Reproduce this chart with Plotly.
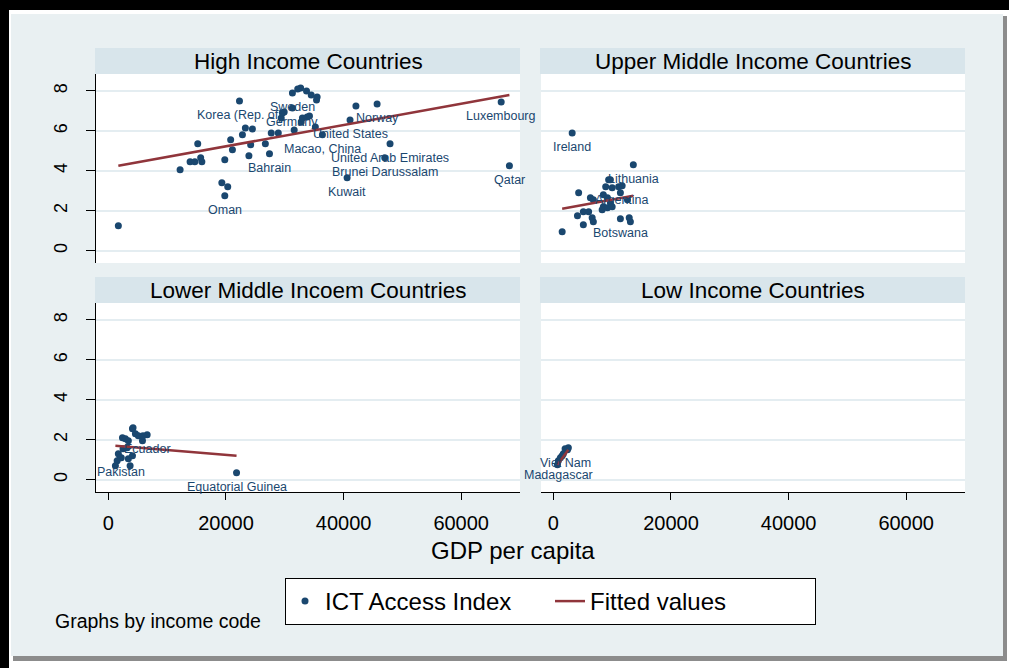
import plotly.graph_objects as go

W, H = 1009, 668

# ---------------- data ----------------
panel_titles = ["High Income Countries", "Upper Middle Income Countries",
                "Lower Middle Incoem Countries", "Low Income Countries"]

high_gdp = [1700, 12200, 13900, 14700, 15900, 15700, 15200, 19800, 19300, 20300,
            19800, 20800, 21100, 22300, 22800, 23300, 24500, 24200, 23900, 26700,
            27400, 27700, 28900, 29400, 29600, 29900, 31300, 32700, 33700, 32200,
            34500, 35400, 35500, 31300, 31600, 32800, 33000, 33800, 34200, 35200,
            36400, 42100, 45700, 41100, 47900, 47000, 40600, 66800, 68200]
high_ict = [1.25, 4.05, 4.45, 4.45, 4.45, 4.65, 5.35, 4.55, 3.4, 3.2,
            2.75, 5.55, 5.05, 7.5, 5.8, 6.15, 6.1, 5.3, 4.75, 5.35,
            4.85, 5.9, 5.9, 6.65, 6.9, 6.95, 7.9, 8.15, 8.0, 8.1,
            7.8, 7.55, 7.7, 7.15, 6.05, 6.45, 6.65, 6.7, 6.75, 6.2,
            5.8, 7.25, 7.35, 6.55, 5.35, 4.65, 3.65, 7.45, 4.25]
high_lbl = ["", "", "", "", "", "", "", "", "", "",
            "Oman", "", "", "Korea (Rep. of)", "", "", "", "", "", "",
            "Bahrain", "", "", "", "", "", "Sweden", "", "", "",
            "", "", "", "Germany", "", "", "", "", "", "",
            "Macao, China", "", "Norway", "United States", "United Arab Emirates",
            "Brunei Darussalam", "Kuwait", "Luxembourg", "Qatar"]
high_fit_x = [1700, 68200]
high_fit_y = [4.25, 7.8]

upper_gdp = [3200, 1500, 13600, 9400, 8900, 10000, 11100, 11700, 4300, 6300,
             6800, 8500, 9200, 11400, 12600, 9700, 8500, 5100, 6000, 4100,
             6600, 5100, 6800, 8300, 9200, 10000, 11400, 12900, 13100, 9700]
upper_ict = [5.9, 0.95, 4.3, 3.55, 3.2, 3.15, 3.2, 3.25, 2.9, 2.65,
             2.55, 2.8, 2.65, 2.9, 2.55, 2.4, 2.2, 1.95, 1.95, 1.75,
             1.65, 1.3, 1.45, 2.05, 2.15, 2.2, 1.6, 1.65, 1.45, 3.55]
upper_lbl = ["Ireland", "", "Lithuania", "", "", "", "", "Argentina", "", "",
             "", "", "", "", "", "", "", "", "", "",
             "", "", "", "", "", "", "Botswana", "", "", ""]
upper_fit_x = [1500, 13600]
upper_fit_y = [2.1, 2.75]

lower_gdp = [21800, 2200, 6600, 4100, 4600, 5100, 2400, 2900, 3400, 5800,
             5900, 2500, 3200, 1700, 2000, 1500, 3400, 4100, 1200, 3700, 4200]
lower_ict = [0.35, 1.1, 2.25, 2.55, 2.3, 2.2, 2.1, 2.05, 1.95, 1.95,
             2.2, 1.55, 1.6, 1.3, 1.1, 0.95, 1.05, 1.2, 0.7, 0.7, 2.6]
lower_lbl = ["Equatorial Guinea", "Pakistan", "Ecuador", "", "", "", "", "", "", "",
             "", "", "", "", "", "", "", "", "", "", ""]
lower_fit_x = [1200, 21800]
lower_fit_y = [1.7, 1.2]

low_gdp = [700, 850, 1200, 1500, 1700, 2000, 2400, 2550]
low_ict = [0.75, 0.95, 1.1, 1.2, 1.3, 1.55, 1.5, 1.6]
low_lbl = ["", "Madagascar", "", "", "", "Viet Nam", "", ""]
low_fit_x = [700, 2550]
low_fit_y = [0.75, 1.5]

x_ticks = [0, 20000, 40000, 60000]
y_ticks = [0, 2, 4, 6, 8]

# ---------------- styling ----------------
NAVY = "#1a476f"
MAROON = "#90353b"
BG = "#e9f0f2"
STRIP = "#d8e5eb"
GRID = "#e4edf1"
FONT = "Liberation Sans, Arial, sans-serif"


def px(x):
    return x / W


def py(y):
    return 1 - y / H


# panel pixel boxes: (left, right, top, bottom)
boxes = [(96, 520, 74, 263), (541, 965, 74, 263),
         (96, 520, 303, 492), (541, 965, 303, 492)]

datasets = [(high_gdp, high_ict, high_lbl, high_fit_x, high_fit_y),
            (upper_gdp, upper_ict, upper_lbl, upper_fit_x, upper_fit_y),
            (lower_gdp, lower_ict, lower_lbl, lower_fit_x, lower_fit_y),
            (low_gdp, low_ict, low_lbl, low_fit_x, low_fit_y)]

fig = go.Figure()
annotations = []

for i, (gx, gy, lbl, fx, fy) in enumerate(datasets):
    ax = "" if i == 0 else str(i + 1)
    first = i == 0
    fig.add_trace(go.Scatter(
        x=gx, y=gy, mode="markers", name="ICT Access Index",
        marker=dict(color=NAVY, size=7, line=dict(width=0)),
        xaxis="x" + ax, yaxis="y" + ax, showlegend=first, legendgroup="pts"))
    fig.add_trace(go.Scatter(
        x=fx, y=fy, mode="lines", name="Fitted values",
        line=dict(color=MAROON, width=2.5),
        xaxis="x" + ax, yaxis="y" + ax, showlegend=first, legendgroup="fit"))
    # point labels (below the marker, as Stata's mlabposition(6))
    for xv, yv, name in zip(gx, gy, lbl):
        if name:
            annotations.append(dict(
                text=name, x=xv, y=yv, xref="x" + ax, yref="y" + ax,
                showarrow=False, xanchor="center", yanchor="middle", yshift=-14,
                font=dict(color=NAVY, size=12.5, family=FONT)))

shapes = [
    # outer frame
    dict(type="rect", xref="paper", yref="paper", x0=0, x1=1, y0=py(10), y1=1,
         fillcolor="#000000", line=dict(width=0), layer="below"),
    dict(type="rect", xref="paper", yref="paper", x0=0, x1=px(9), y0=0, y1=1,
         fillcolor="#000000", line=dict(width=0), layer="below"),
    dict(type="rect", xref="paper", yref="paper", x0=px(13), x1=px(1007),
         y0=py(661), y1=py(16), fillcolor="#8c8c8c", line=dict(width=0), layer="below"),
    dict(type="rect", xref="paper", yref="paper", x0=px(11), x1=px(1003),
         y0=py(656), y1=py(14), fillcolor=BG, line=dict(width=0), layer="below"),
]
layout_axes = {}
for i, (l, r, t, b) in enumerate(boxes):
    ax = "" if i == 0 else str(i + 1)
    is_left = i in (0, 2)
    is_bottom = i in (2, 3)
    # white plot region
    shapes.append(dict(type="rect", xref="paper", yref="paper", x0=px(l), x1=px(r),
                       y0=py(b), y1=py(t), fillcolor="#ffffff",
                       line=dict(width=0), layer="below"))
    # strip
    shapes.append(dict(type="rect", xref="paper", yref="paper", x0=px(l - 1), x1=px(r),
                       y0=py(t), y1=py(t - 26), fillcolor=STRIP,
                       line=dict(width=0), layer="below"))
    annotations.append(dict(text=panel_titles[i], xref="paper", yref="paper",
                            x=px((l + r) / 2), y=py(t - 13), showarrow=False,
                            xanchor="center", yanchor="middle",
                            font=dict(size=22.5, color="#000000", family=FONT)))
    layout_axes["xaxis" + ax] = dict(
        domain=[px(l), px(r)], range=[-2100, 70000], anchor="y" + ax,
        showgrid=False, zeroline=False, tickvals=x_ticks,
        ticktext=[str(v) for v in x_ticks],
        showline=is_bottom, linecolor="#000000", linewidth=1.3,
        ticks="outside" if is_bottom else "", ticklen=7, tickcolor="#000000",
        showticklabels=is_bottom, ticklabelstandoff=6,
        tickfont=dict(size=20, color="#000000", family=FONT))
    layout_axes["yaxis" + ax] = dict(
        domain=[py(b), py(t)], range=[-0.62, 8.85], anchor="x" + ax,
        showgrid=True, gridcolor=GRID, gridwidth=1.5, zeroline=False,
        tickvals=y_ticks, ticktext=[str(v) for v in y_ticks],
        showline=is_left, linecolor="#000000", linewidth=1.3,
        ticks="outside" if is_left else "", ticklen=9, tickcolor="#000000",
        showticklabels=is_left, tickangle=-90, ticklabelstandoff=12,
        tickfont=dict(size=18, color="#000000", family=FONT))

annotations.append(dict(text="GDP per capita", xref="paper", yref="paper",
                        x=px(513), y=py(550), showarrow=False, xanchor="center",
                        yanchor="middle",
                        font=dict(size=24, color="#000000", family=FONT)))
annotations.append(dict(text="Graphs by income code", xref="paper", yref="paper",
                        x=px(53), y=py(621), showarrow=False, xanchor="left",
                        yanchor="middle",
                        font=dict(size=19.5, color="#000000", family=FONT)))

fig.update_layout(
    width=W, height=H, autosize=False,
    margin=dict(l=0, r=0, t=0, b=0),
    paper_bgcolor="#ffffff", plot_bgcolor="rgba(0,0,0,0)",
    shapes=shapes, annotations=annotations,
    showlegend=True,
    legend=dict(orientation="h", x=px(285), xanchor="left", y=py(578), yanchor="top",
                bgcolor="#ffffff", bordercolor="#000000", borderwidth=1,
                font=dict(size=24, color="#000000", family=FONT),
                entrywidth=220, itemsizing="trace"),
    **layout_axes)

fig.write_html("out.html", config={"displayModeBar": False},
               post_script="document.body.style.margin='0';"
                           "document.body.style.overflow='hidden';")
